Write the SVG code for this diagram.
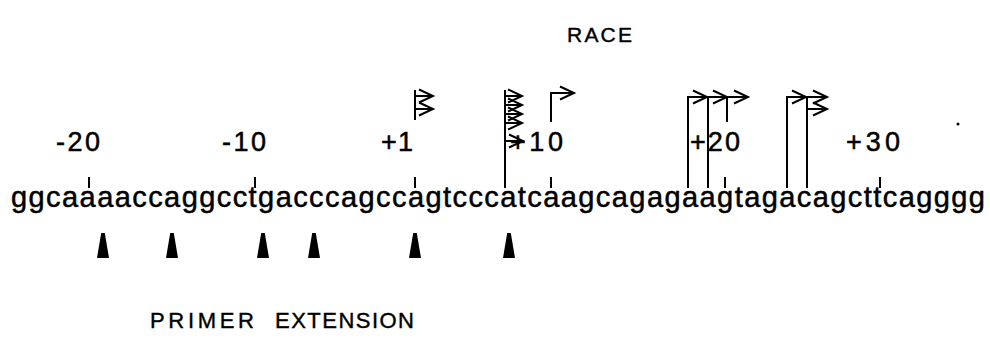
<svg xmlns="http://www.w3.org/2000/svg" width="990" height="355" viewBox="0 0 990 355">
<style>
.t{font-family:"Liberation Sans",Arial,sans-serif;fill:#000}
.b{stroke:#000;stroke-width:0.5}
.tb{stroke:#000;stroke-width:0.4}
.ln{stroke:#000;stroke-width:2;fill:none}
.hd{stroke:#000;stroke-width:2;fill:none;stroke-linejoin:miter}
.tri{fill:#000}
</style>
<defs>
<path id="chev" d="M-14,-6.5 L0,0 L-14,6.5" class="hd"/>
<path id="pe" d="M-1.8,0 L1.8,0 L6,25 L-6,25 Z" class="tri"/>
</defs>
<rect width="990" height="355" fill="#fff"/>
<g id="title-race"><text class="t tb" x="567" y="42" font-size="21" textLength="65" lengthAdjust="spacing">RACE</text></g>
<g id="title-primer">
<text class="t tb" x="150" y="328" font-size="22" textLength="104" lengthAdjust="spacing">PRIMER</text>
<text class="t tb" x="275" y="328" font-size="22" textLength="139" lengthAdjust="spacing">EXTENSION</text>
</g>
<g id="labels" class="t b" font-size="27">
<text x="56" y="151" textLength="44" lengthAdjust="spacing">-20</text>
<text x="222" y="151" textLength="44" lengthAdjust="spacing">-10</text>
<text x="381" y="151" textLength="32" lengthAdjust="spacing">+1</text>
<text x="510" y="151" textLength="53" lengthAdjust="spacing">+10</text>
<text x="690" y="151" textLength="50" lengthAdjust="spacing">+20</text>
<text x="846" y="151" textLength="54" lengthAdjust="spacing">+30</text>
</g>
<g id="ticks" class="ln">
<path d="M89,177V188M255,177V188M415,177V188M551,177V188M725,177V188M880,177V188"/>
</g>
<g id="sequence"><text class="t b" x="11" y="207" font-size="29" textLength="974" lengthAdjust="spacing">ggcaaaaccaggcctgacccagccagtcccatcaagcagagaagtagacagcttcagggg</text></g>
<g id="connectors">
<g id="race-1">
<path class="ln" d="M415,120V90M415,96H433M415,109H433"/>
<use href="#chev" x="433" y="96"/><use href="#chev" x="433" y="109"/>
</g>
<g id="race-2">
<path class="ln" d="M505,188V90M505,96H522M505,105H522M505,114H522M505,123H522M505,141H523"/>
<use href="#chev" x="522" y="96"/><use href="#chev" x="522" y="105"/><use href="#chev" x="522" y="114"/><use href="#chev" x="522" y="123"/><use href="#chev" x="523" y="141"/>
</g>
<g id="race-3">
<path class="ln" d="M551,122V93H574"/>
<use href="#chev" x="574" y="93"/>
</g>
<g id="race-4">
<path class="ln" d="M688,188V97H748M708,188V97M727,122V97"/>
<use href="#chev" x="707" y="97"/><use href="#chev" x="727" y="97"/><use href="#chev" x="748" y="97"/>
</g>
<g id="race-5">
<path class="ln" d="M787,188V97H827M807,188V97M807,109H827"/>
<use href="#chev" x="806" y="97"/><use href="#chev" x="827" y="97"/><use href="#chev" x="827" y="109"/>
</g>
</g>
<g id="primer-extension">
<use href="#pe" x="103" y="233"/>
<use href="#pe" x="172" y="233"/>
<use href="#pe" x="263" y="233"/>
<use href="#pe" x="314" y="233"/>
<use href="#pe" x="415" y="233"/>
<use href="#pe" x="509" y="233"/>
</g>
<circle cx="958" cy="124" r="1.5" fill="#000"/>
</svg>
